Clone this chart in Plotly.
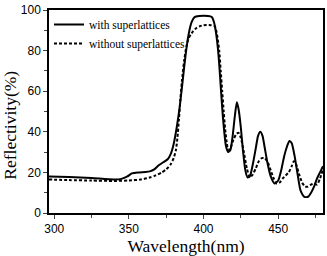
import plotly.graph_objects as go

# "with superlattices" (solid)
with_x = [296.5, 310, 325, 340, 345, 349, 352, 356, 361, 364, 367, 370, 373, 376, 378, 380, 382, 384, 386, 388,
          390, 392, 394, 397, 403, 405.5, 407, 408.5, 410, 411, 412, 413, 414, 415, 416.5, 418, 419.5, 421, 422.3,
          423.5, 425, 426.5, 428, 429.5, 431, 433, 435, 436.5, 438, 439.5, 441, 443, 445, 447.5, 450, 452, 454, 456,
          457.5, 459, 461, 463, 465, 467.5, 470, 472, 474, 476, 478, 480]
with_y = [18, 17.7, 17.2, 16.5, 16.8, 18, 19.5, 20, 20.2, 20.5, 21.5, 23.5, 25, 26.5, 29, 34, 42, 52, 65, 78,
          88, 94, 96.5, 97, 97, 96.5, 94, 88, 78, 68, 57, 47, 39, 33, 30, 31, 38, 48, 54.5,
          51, 42, 30, 21, 17.5, 18, 24, 32, 38, 40, 38, 32, 24, 18, 14.5, 16, 21, 28, 33,
          35.5, 34.5, 28, 19, 11, 8, 8, 10, 13, 17, 20, 23]

# "without superlattices" (dotted)
without_x = [296.5, 310, 325, 340, 350, 358, 364, 368, 372, 375, 378, 380, 381.5, 382.5, 383.5, 384.5, 385.5, 387,
             388.5, 390, 391.5, 393, 395, 397.5, 400, 405, 407.5, 409, 410.5, 411.5, 412.5, 413.5, 414.5, 415.5,
             416.5, 418, 420, 422, 423.5, 425, 427, 429, 431, 433, 435, 437, 439, 441, 443, 445, 447, 449, 451, 453,
             455, 457, 459, 460.5, 462, 464, 466, 468, 470, 472, 474, 476, 478, 480]
without_y = [16.5, 16.2, 16, 15.8, 16, 16.5, 17.5, 18.5, 20, 21.5, 24, 27, 31, 37, 46, 56, 65, 75,
             82, 86, 88, 89.5, 91, 92, 92.5, 92.5, 92, 88, 80, 70, 60, 50, 41, 35,
             31, 32, 36, 39, 39.5, 37, 30, 22, 17.5, 19, 22, 25.5, 27, 27, 25, 21, 17, 14.5, 15, 17,
             18.5, 20, 23, 25.5, 24, 19, 15, 13, 13, 14, 14.5, 14, 17, 21.5]

x_ticks = [300, 350, 400, 450]
y_ticks = [0, 20, 40, 60, 80, 100]

fig = go.Figure()
fig.add_trace(go.Scatter(x=with_x, y=with_y, mode="lines", name="with superlattices",
                         line=dict(color="black", width=2, shape="spline", smoothing=0.6)))
fig.add_trace(go.Scatter(x=without_x, y=without_y, mode="lines", name="without superlattices",
                         line=dict(color="black", width=2, dash="3px,2px", shape="spline", smoothing=0.6)))

serif = "Liberation Serif"
sans = "Liberation Sans"

fig.update_layout(
    width=327, height=256,
    margin=dict(l=49, r=2, t=10, b=42),
    paper_bgcolor="white", plot_bgcolor="white",
    showlegend=True,
    legend=dict(x=0.0, y=1.0, xanchor="left", yanchor="top", bgcolor="rgba(0,0,0,0)",
                font=dict(family=serif, size=11.5, color="black"), tracegroupgap=0,
                itemwidth=30),
    xaxis=dict(range=[296.5, 480], tickvals=x_ticks, ticks="outside", ticklen=4, tickwidth=1.2,
               minor=dict(tickvals=[325, 375, 425, 475], ticks="outside", ticklen=3, tickwidth=1),
               showline=True, linecolor="black", linewidth=1.5, mirror=True, showgrid=False, zeroline=False,
               tickfont=dict(family=sans, size=12, color="black"),
               title=dict(text="Wavelength(nm)", font=dict(family=serif, size=17.5, color="black"), standoff=6)),
    yaxis=dict(range=[0, 100], tickvals=y_ticks, ticks="outside", ticklen=4, tickwidth=1.2,
               minor=dict(tickvals=[10, 30, 50, 70, 90], ticks="outside", ticklen=3, tickwidth=1),
               showline=True, linecolor="black", linewidth=1.5, mirror=True, showgrid=False, zeroline=False,
               tickfont=dict(family=sans, size=12, color="black")),
    annotations=[dict(text="Reflectivity(%)", textangle=-90, xref="paper", yref="paper",
                      x=0, y=0.43, xanchor="center", yanchor="middle", xshift=-39, showarrow=False,
                      font=dict(family=serif, size=17.5, color="black"))],
)

fig.write_html("out.html")
